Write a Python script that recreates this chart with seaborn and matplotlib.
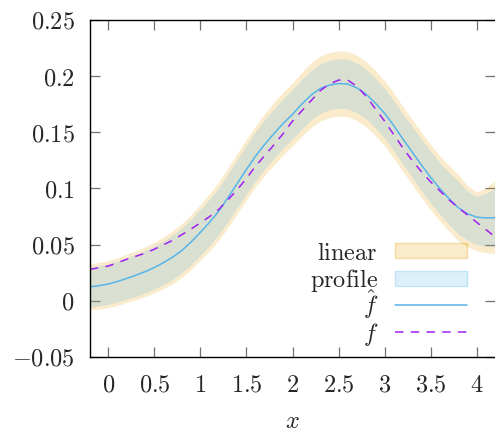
import matplotlib
matplotlib.use("Agg")
import matplotlib.pyplot as plt
import matplotlib.transforms as mtransforms
from matplotlib.patches import Rectangle
from matplotlib.lines import Line2D
import seaborn as sns

# values (step 0.1 in x)
x = [-0.2, -0.1, 0.0, 0.1, 0.2, 0.3, 0.4, 0.5, 0.6, 0.7, 0.8, 0.9, 1.0, 1.1, 1.2,
     1.3, 1.4, 1.5, 1.6, 1.7, 1.8, 1.9, 2.0, 2.1, 2.2, 2.3, 2.4, 2.5, 2.6, 2.7,
     2.8, 2.9, 3.0, 3.1, 3.2, 3.3, 3.4, 3.5, 3.6, 3.7, 3.8, 3.9, 4.0, 4.1, 4.2]
f_hat = [0.0125, 0.0135, 0.015, 0.0172, 0.020, 0.0228, 0.026, 0.0297, 0.034, 0.039, 0.045, 0.0525, 0.061, 0.070, 0.080,
         0.092, 0.1045, 0.117, 0.129, 0.1395, 0.149, 0.158, 0.166, 0.175, 0.183, 0.189, 0.192, 0.1935, 0.193, 0.1895,
         0.184, 0.176, 0.167, 0.156, 0.144, 0.1325, 0.121, 0.110, 0.100, 0.091, 0.083, 0.0775, 0.0745, 0.0738, 0.074]
f_true = [0.028, 0.0295, 0.031, 0.034, 0.037, 0.0397, 0.0425, 0.046, 0.050, 0.054, 0.059, 0.064, 0.0695, 0.075, 0.0815,
          0.090, 0.099, 0.109, 0.120, 0.1295, 0.139, 0.149, 0.160, 0.169, 0.178, 0.187, 0.193, 0.1965, 0.1965, 0.191,
          0.182, 0.171, 0.160, 0.148, 0.136, 0.125, 0.115, 0.106, 0.098, 0.090, 0.083, 0.0765, 0.070, 0.0635, 0.057]
profile_lo = [-0.0055, -0.0045, -0.003, -0.001, 0.0015, 0.0041, 0.007, 0.0105, 0.0145, 0.0193, 0.025, 0.0323, 0.0405, 0.0493, 0.059,
              0.0708, 0.083, 0.0953, 0.107, 0.1175, 0.127, 0.136, 0.144, 0.153, 0.161, 0.167, 0.170, 0.1715, 0.171, 0.1675,
              0.162, 0.154, 0.145, 0.1338, 0.1215, 0.1098, 0.098, 0.087, 0.077, 0.068, 0.0595, 0.054, 0.050, 0.0485, 0.048]
profile_hi = [0.0305, 0.0315, 0.033, 0.0354, 0.0385, 0.0415, 0.045, 0.0489, 0.0535, 0.0587, 0.065, 0.0727, 0.0815, 0.0907, 0.101,
              0.1132, 0.126, 0.1387, 0.151, 0.1615, 0.171, 0.180, 0.188, 0.197, 0.205, 0.211, 0.214, 0.2155, 0.215, 0.2115,
              0.206, 0.198, 0.189, 0.1782, 0.1665, 0.1552, 0.144, 0.133, 0.123, 0.1145, 0.1065, 0.0975, 0.093, 0.0955, 0.100]
linear_lo = [-0.008, -0.0072, -0.006, -0.004, -0.0015, 0.001, 0.004, 0.0072, 0.011, 0.0155, 0.021, 0.028, 0.036, 0.0445, 0.054,
             0.0655, 0.0775, 0.090, 0.102, 0.112, 0.121, 0.130, 0.138, 0.1465, 0.154, 0.160, 0.163, 0.1645, 0.164, 0.1605,
             0.155, 0.147, 0.138, 0.127, 0.115, 0.1035, 0.092, 0.081, 0.071, 0.062, 0.0535, 0.048, 0.0445, 0.043, 0.042]
linear_hi = [0.033, 0.0342, 0.036, 0.0384, 0.0415, 0.0446, 0.048, 0.0522, 0.057, 0.0625, 0.069, 0.077, 0.086, 0.0955, 0.106,
             0.1185, 0.1315, 0.144, 0.156, 0.167, 0.177, 0.186, 0.194, 0.2035, 0.212, 0.218, 0.221, 0.2225, 0.222, 0.2185,
             0.213, 0.205, 0.196, 0.185, 0.173, 0.1615, 0.150, 0.139, 0.129, 0.1205, 0.1125, 0.1025, 0.097, 0.1005, 0.107]

xticks = [0, 0.5, 1, 1.5, 2, 2.5, 3, 3.5, 4]
xtick_labels = ["0", "0.5", "1", "1.5", "2", "2.5", "3", "3.5", "4"]
yticks = [-0.05, 0, 0.05, 0.1, 0.15, 0.2, 0.25]
ytick_labels = ["-0.05", "0", "0.05", "0.1", "0.15", "0.2", "0.25"]
legend_labels = [r"$\mathrm{linear}$", r"$\mathrm{profile}$", r"$\hat{f}$", r"$f$"]

orange = "#E69F00"
blue = "#56B4E9"
violet = "#A020F0"

sns.set_style("ticks")
plt.rcParams["mathtext.fontset"] = "cm"
plt.rcParams["font.family"] = ["DejaVu Serif"]
fs = 17.5

fig = plt.figure(figsize=(4.95, 4.34), dpi=100)
ax = fig.add_axes([90 / 495, 77 / 434, 405 / 495, 337 / 434])

ax.fill_between(x, linear_lo, linear_hi, color=orange, alpha=0.2, lw=0)
ax.fill_between(x, profile_lo, profile_hi, color=blue, alpha=0.2, lw=0)
sns.lineplot(x=x, y=f_hat, ax=ax, color=blue, lw=1.1)
sns.lineplot(x=x, y=f_true, ax=ax, color=violet, lw=1.1, linestyle=(0, (5.5, 4.8)))

ax.set_xlim(-0.2, 4.2)
ax.set_ylim(-0.05, 0.25)
ax.set_xticks(xticks)
ax.set_xticklabels(["$%s$" % s for s in xtick_labels], fontsize=fs)
ax.set_yticks(yticks)
ax.set_yticklabels(["$%s$" % s for s in ytick_labels], fontsize=fs)
ax.tick_params(direction="in", length=7.2, width=0.9, color="#707070",
               top=True, right=True, labeltop=False, labelright=False)
ax.tick_params(axis="x", pad=12)
ax.tick_params(axis="y", pad=11)
for side in ["left", "bottom", "top"]:
    ax.spines[side].set_color("black")
    ax.spines[side].set_linewidth(1.0)
ax.spines["right"].set_visible(False)

ax.set_xlabel("$x$", fontsize=fs)
ax.xaxis.set_label_coords(0.5, -0.158)

# gnuplot-style key: right-aligned text, sample on the right
row_y = [0.316, 0.234, 0.154, 0.074]
text_x = 0.711
sw_x0, sw_x1 = 0.753, 0.931
sw_h = 0.044
base_off = mtransforms.ScaledTranslation(0, -0.09, fig.dpi_scale_trans)
for i, lab in enumerate(legend_labels):
    ax.text(text_x, row_y[i], lab, transform=ax.transAxes + base_off,
            ha="right", va="baseline", fontsize=fs)
for i, col in enumerate([orange, blue]):
    rgb = matplotlib.colors.to_rgb(col)
    ax.add_patch(Rectangle((sw_x0, row_y[i] - sw_h / 2), sw_x1 - sw_x0, sw_h,
                           transform=ax.transAxes, facecolor=(*rgb, 0.2),
                           edgecolor=(*rgb, 0.3), lw=1))
ax.add_line(Line2D([sw_x0, sw_x1], [row_y[2], row_y[2]], transform=ax.transAxes, color=blue, lw=1.1))
ax.add_line(Line2D([sw_x0, sw_x1], [row_y[3], row_y[3]], transform=ax.transAxes, color=violet,
                   lw=1.1, linestyle=(0, (5.5, 4.8))))

fig.savefig("out.png", dpi=100)
